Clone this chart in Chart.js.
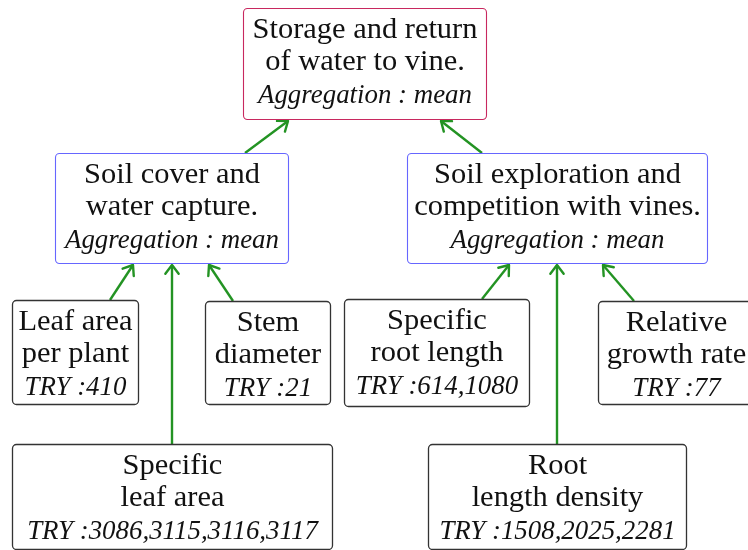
<!DOCTYPE html>
<html>
<head>
<meta charset="utf-8">
<script src="https://cdn.jsdelivr.net/npm/chart.js@4/dist/chart.umd.min.js"></script>
<style>
  html, body { margin: 0; padding: 0; background: #ffffff; }
  #wrap { width: 748px; height: 550px; }
</style>
</head>
<body>
<div id="wrap"><canvas id="c" width="748" height="550"></canvas></div>
<script>
// ---- content (data) ----
const nodeTitles = [
  ["Storage and return", "of water to vine."],
  ["Soil cover and", "water capture."],
  ["Soil exploration and", "competition with vines."],
  ["Leaf area", "per plant"],
  ["Stem", "diameter"],
  ["Specific", "root length"],
  ["Relative", "growth rate"],
  ["Specific", "leaf area"],
  ["Root", "length density"]
];
const nodeNotes = [
  "Aggregation : mean",
  "Aggregation : mean",
  "Aggregation : mean",
  "TRY :410",
  "TRY :21",
  "TRY :614,1080",
  "TRY :77",
  "TRY :3086,3115,3116,3117",
  "TRY :1508,2025,2281"
];
const nodeLevel = ["root", "group", "group", "trait", "trait", "trait", "trait", "trait", "trait"];
// child -> parent links
const edgeFrom = [3, 7, 4, 5, 8, 6, 1, 2];
const edgeTo   = [1, 1, 1, 2, 2, 2, 0, 0];

// ---- layout (positions in diagram units) ----
const nodeBoxes = [
  [243, 8, 486, 119],
  [55, 153, 288, 263],
  [407, 153, 707, 263],
  [12, 300, 138, 404],
  [205, 301, 330, 404],
  [344, 299, 529, 406],
  [598, 301, 754, 404],
  [12, 444, 332, 549],
  [428, 444, 686, 549]
];
const edgeStart = [[110, 300], [172, 444], [233, 301], [482, 299], [557, 444], [634, 301], [245, 153], [482, 153]];
const edgeEnd   = [[133, 265], [172, 265], [209, 265], [509, 265], [557, 265], [603, 265], [288, 121], [441, 121]];

// ---- styles ----
const levelBorder = { root: "#c8285f", group: "#6666ff", trait: "#333333" };
const edgeColor = "#239323";

const ctx0 = document.createElement("canvas").getContext("2d");
function fitSize(fam, style, text, target) {
  ctx0.font = style + " 100px " + fam;
  return 100 * target / ctx0.measureText(text).width;
}
const FAM = '"Liberation Serif", "Times New Roman", serif';
const romanSize = fitSize(FAM, "normal", "Storage and return", 225);
const italicSize = fitSize(FAM, "italic", "Aggregation : mean", 214);

const datasets = edgeFrom.map((f, i) => ({
  type: "scatter",
  data: [{ x: edgeStart[i][0], y: edgeStart[i][1] }, { x: edgeEnd[i][0], y: edgeEnd[i][1] }],
  showLine: true,
  borderColor: edgeColor,
  borderWidth: 2.4,
  pointRadius: 0,
  fill: false
}));

const diagramPlugin = {
  id: "diagram",
  afterDatasetsDraw(chart) {
    const ctx = chart.ctx;
    const xs = chart.scales.x, ys = chart.scales.y;
    const px = v => xs.getPixelForValue(v);
    const py = v => ys.getPixelForValue(v);
    ctx.save();
    // arrowheads
    ctx.strokeStyle = edgeColor;
    ctx.lineWidth = 2.4;
    ctx.lineCap = "round";
    ctx.lineJoin = "round";
    edgeFrom.forEach((f, i) => {
      const x0 = px(edgeStart[i][0]), y0 = py(edgeStart[i][1]);
      const x1 = px(edgeEnd[i][0]), y1 = py(edgeEnd[i][1]);
      const a = Math.atan2(y1 - y0, x1 - x0);
      const L = 11, s = 0.65;
      ctx.beginPath();
      ctx.moveTo(x1 - L * Math.cos(a - s), y1 - L * Math.sin(a - s));
      ctx.lineTo(x1, y1);
      ctx.lineTo(x1 - L * Math.cos(a + s), y1 - L * Math.sin(a + s));
      ctx.stroke();
    });
    // boxes and text
    nodeBoxes.forEach((b, i) => {
      const x0 = px(b[0]) + 0.5, y0 = py(b[1]) + 0.5, x1 = px(b[2]) + 0.5, y1 = py(b[3]) + 0.5;
      ctx.beginPath();
      ctx.roundRect(x0, y0, x1 - x0, y1 - y0, 4);
      ctx.fillStyle = "#ffffff";
      ctx.fill();
      ctx.strokeStyle = levelBorder[nodeLevel[i]];
      ctx.lineWidth = nodeLevel[i] === "trait" ? 1.3 : 1.1;
      ctx.stroke();
      const cx = (x0 + x1) / 2;
      const base = y0 + 29.5;
      ctx.fillStyle = "#111111";
      ctx.textAlign = "center";
      ctx.textBaseline = "alphabetic";
      const lines = nodeTitles[i];
      lines.forEach((t, k) => {
        ctx.font = "normal " + romanSize.toFixed(2) + "px " + FAM;
        ctx.fillText(t, cx, base + k * 32);
      });
      ctx.font = "italic " + italicSize.toFixed(2) + "px " + FAM;
      ctx.fillText(nodeNotes[i], cx, base + 64.5);
    });
    ctx.restore();
  }
};

new Chart(document.getElementById("c"), {
  type: "scatter",
  data: { datasets },
  options: {
    responsive: false,
    animation: false,
    layout: { padding: 0 },
    plugins: { legend: { display: false }, tooltip: { enabled: false } },
    scales: {
      x: { type: "linear", min: 0, max: 748, display: false },
      y: { type: "linear", min: 0, max: 550, reverse: true, display: false }
    }
  },
  plugins: [diagramPlugin]
});
</script>
</body>
</html>
